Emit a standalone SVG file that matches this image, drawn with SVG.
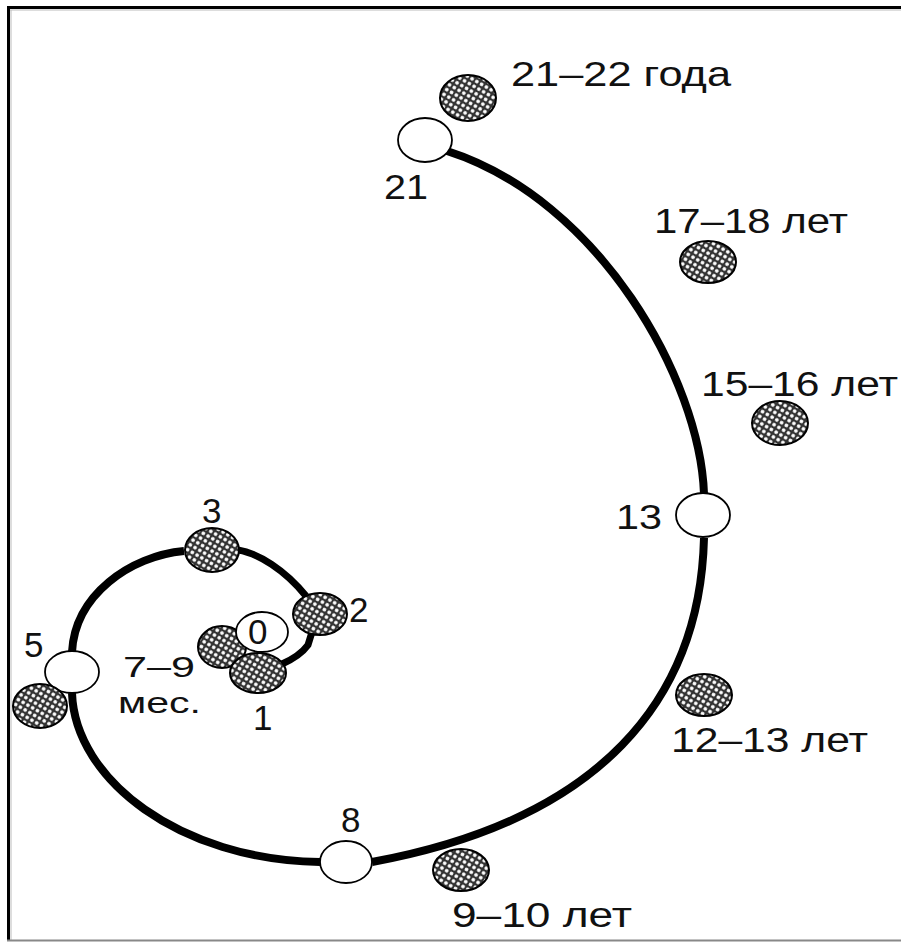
<svg xmlns="http://www.w3.org/2000/svg" width="901" height="942" viewBox="0 0 901 942">
<defs>
<pattern id="hatch" width="5.5" height="5.5" patternUnits="userSpaceOnUse" patternTransform="rotate(30)">
<rect width="5.5" height="5.5" fill="#333333"/>
<circle cx="2.75" cy="2.75" r="1.9" fill="#ffffff"/>
</pattern>
</defs>
<style>
.line{fill:none;stroke:#000;stroke-width:8;stroke-linecap:butt}
.inner{stroke-width:7}
.w{fill:#fff;stroke:#000;stroke-width:1.8}
.h{fill:url(#hatch);stroke:#000;stroke-width:2}
text{font-family:"Liberation Sans",Arial,sans-serif;font-size:35px;fill:#111}
.sm{font-size:30px}
</style>
<rect x="0" y="0" width="901" height="942" fill="#fff"/>
<g id="frame">
<line x1="7" y1="7.5" x2="901" y2="7.5" stroke="#000" stroke-width="3"/>
<line x1="8.5" y1="6" x2="8.5" y2="941" stroke="#000" stroke-width="3"/>
<line x1="10" y1="10" x2="901" y2="10" stroke="#bbb" stroke-width="1"/>
<line x1="11" y1="10" x2="11" y2="940" stroke="#bbb" stroke-width="1"/>
<line x1="7" y1="940.5" x2="901" y2="940.5" stroke="#888" stroke-width="2"/>
</g>
<g id="connectors">
<path class="line inner" d="M282,664 Q300,656 308,645 L312,632"/>
<path class="line inner" d="M238,550 C258,553 285,570 306,596"/>
<path class="line" d="M184,551 C130,556 75,595 72,652"/>
<path class="line" d="M72,693 C75,780 180,860 320,862"/>
<path class="line" d="M372,862 C600,820 700,700 704,538"/>
<path class="line" d="M704,494 C700,380 600,200 447,151"/>
</g>
<g id="node-7-9">
<ellipse class="h" cx="222" cy="647" rx="24" ry="21"/>
<text class="sm" x="123" y="677" textLength="72" lengthAdjust="spacingAndGlyphs">7–9</text>
<text class="sm" x="118" y="713" textLength="83" lengthAdjust="spacingAndGlyphs">мес.</text>
</g>
<g id="node-0">
<ellipse class="w" cx="262" cy="632" rx="26" ry="20"/>
<text x="248" y="644" font-size="33">0</text>
</g>
<g id="node-1">
<ellipse class="h" cx="258" cy="673" rx="28" ry="20"/>
<text x="253" y="730">1</text>
</g>
<g id="node-2">
<ellipse class="h" cx="320" cy="614" rx="27" ry="21"/>
<text x="349" y="622">2</text>
</g>
<g id="node-3">
<ellipse class="h" cx="212" cy="550" rx="27" ry="22"/>
<text x="202" y="523">3</text>
</g>
<g id="node-5">
<ellipse class="w" cx="72" cy="672" rx="27" ry="21"/>
<text x="24" y="657">5</text>
</g>
<g id="node-5-hatched">
<ellipse class="h" cx="40" cy="706" rx="27" ry="22"/>
</g>
<g id="node-8">
<ellipse class="w" cx="346" cy="862" rx="26" ry="21"/>
<text x="341" y="832">8</text>
</g>
<g id="node-9-10">
<ellipse class="h" cx="461" cy="870" rx="28" ry="21"/>
<text x="452" y="927" textLength="180" lengthAdjust="spacingAndGlyphs">9–10 лет</text>
</g>
<g id="node-12-13">
<ellipse class="h" cx="704" cy="695" rx="28" ry="21"/>
<text x="671" y="752" textLength="197" lengthAdjust="spacingAndGlyphs">12–13 лет</text>
</g>
<g id="node-13">
<ellipse class="w" cx="703" cy="515" rx="27" ry="22"/>
<text x="616" y="529" textLength="46" lengthAdjust="spacingAndGlyphs">13</text>
</g>
<g id="node-15-16">
<ellipse class="h" cx="780" cy="423" rx="28" ry="22"/>
<text x="701" y="396" textLength="197" lengthAdjust="spacingAndGlyphs">15–16 лет</text>
</g>
<g id="node-17-18">
<ellipse class="h" cx="708" cy="262" rx="28" ry="21"/>
<text x="654" y="233" textLength="194" lengthAdjust="spacingAndGlyphs">17–18 лет</text>
</g>
<g id="node-21">
<ellipse class="w" cx="425" cy="140" rx="27" ry="22"/>
<text x="384" y="199" textLength="44" lengthAdjust="spacingAndGlyphs">21</text>
</g>
<g id="node-21-22">
<ellipse class="h" cx="468" cy="98" rx="28" ry="23"/>
<text x="511" y="86" textLength="220" lengthAdjust="spacingAndGlyphs">21–22 года</text>
</g>
</svg>
